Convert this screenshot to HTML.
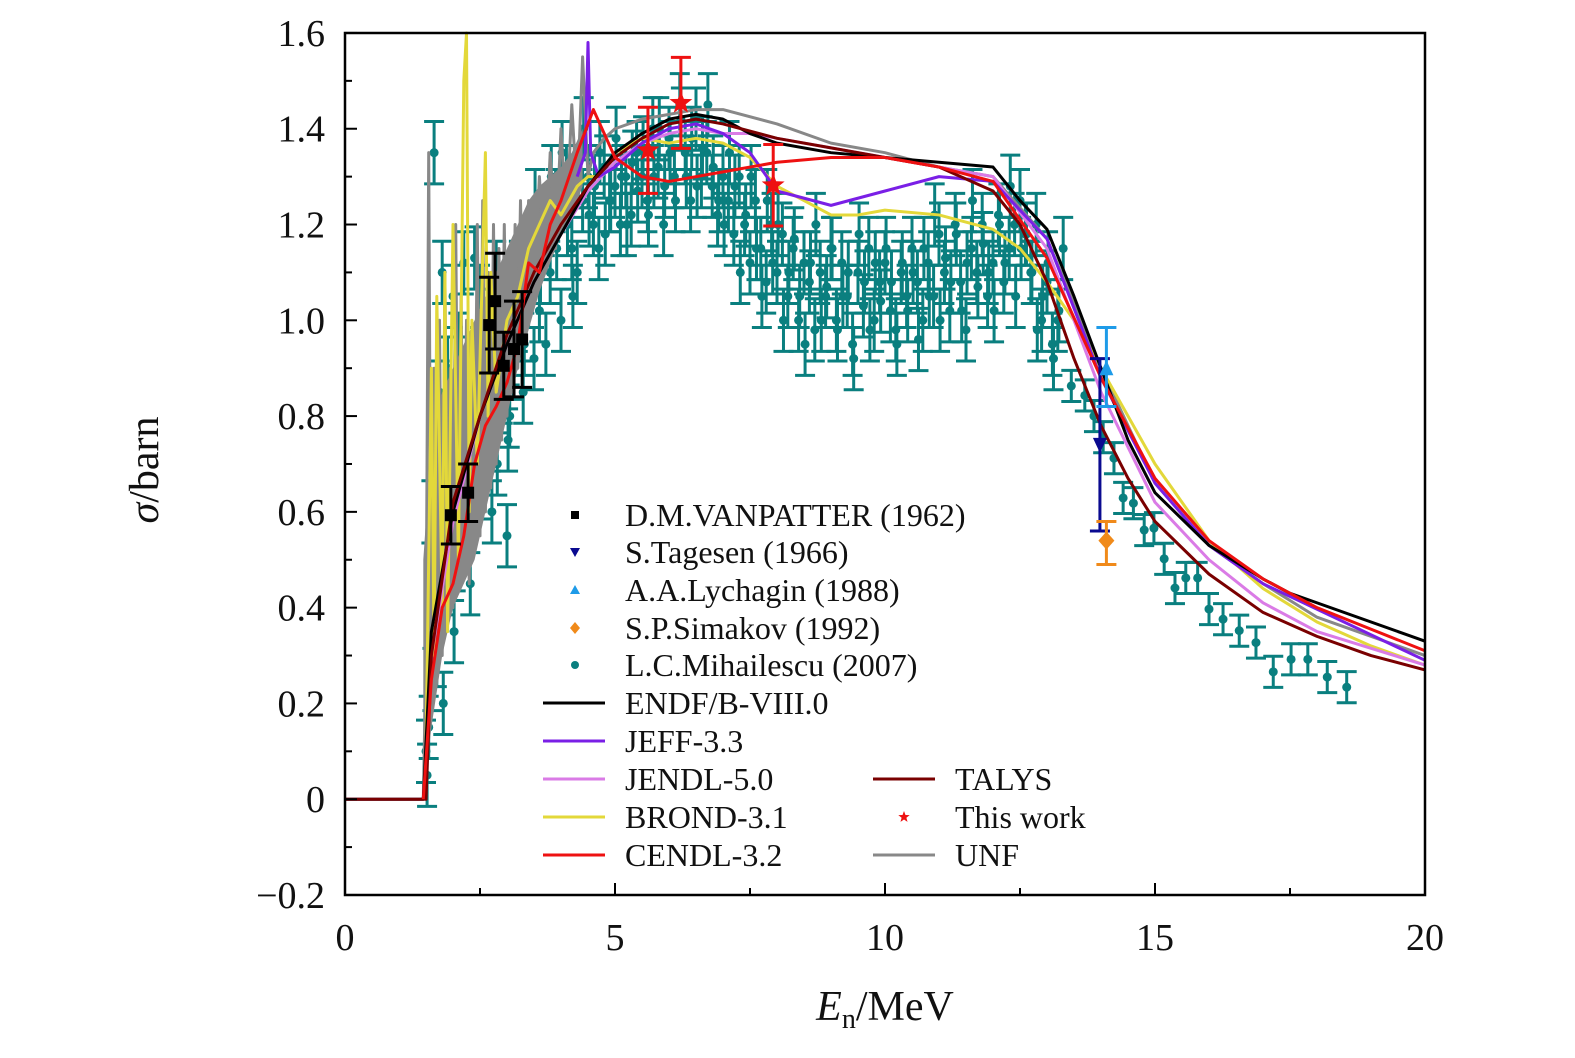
<!DOCTYPE html>
<html><head><meta charset="utf-8"><style>
body{margin:0;background:#fff}
svg text{font-family:"Liberation Serif",serif;fill:#111}
</style></head><body>
<svg id="chart" width="1575" height="1053" xmlns="http://www.w3.org/2000/svg">
<rect width="1575" height="1053" fill="#fff"/>
<g id="plot"></g>
<g id="axes"></g>
<g id="legend"></g>
</svg>
<script>
const xTicks=[0,5,10,15,20];
const yTicks=[-0.2,0,0.2,0.4,0.6,0.8,1.0,1.2,1.4,1.6];
const yTickLabels=["\u22120.2","0","0.2","0.4","0.6","0.8","1.0","1.2","1.4","1.6"];
const endfE=[0,1.45,1.6,2,2.5,3,3.5,4,4.5,5,5.5,6,6.5,7,7.5,8,9,10,11,12,12.5,13,13.5,14,14.5,15,16,17,17.5,20];
const endfV=[0,0,0.35,0.6,0.8,0.95,1.08,1.18,1.28,1.35,1.39,1.42,1.43,1.42,1.39,1.37,1.35,1.34,1.33,1.32,1.25,1.19,1.05,0.9,0.75,0.64,0.53,0.46,0.43,0.33];
const jeffE=[4.3,4.45,4.5,4.55,4.7,5,5.5,6,6.5,7,7.5,8,9,10,11,12,13,14,15,16,17,20];
const jeffV=[1.3,1.35,1.58,1.35,1.3,1.32,1.37,1.4,1.41,1.39,1.35,1.27,1.24,1.27,1.3,1.29,1.17,0.88,0.66,0.53,0.45,0.29];
const jendlE=[0,1.0,1.45,1.6,2,2.5,3,3.5,4,4.5,5,5.5,6,6.5,7,7.5,8,9,10,11,12,13,14,15,16,17,18,20];
const jendlV=[0,0,0,0.3,0.58,0.8,0.95,1.08,1.18,1.27,1.33,1.37,1.39,1.4,1.39,1.39,1.38,1.36,1.34,1.32,1.3,1.15,0.85,0.62,0.5,0.41,0.35,0.28];
const brondE=[1.5,1.6,1.65,1.7,1.8,1.85,1.9,2.0,2.1,2.2,2.25,2.3,2.35,2.45,2.6,2.65,2.7,2.8,3.0,3.2,3.4,3.6,3.8,4.0,4.3,4.5,4.7,5,5.5,6,6.5,7,7.5,8,8.5,9,9.5,10,11,12,12.5,13,13.5,14,15,16,17,18,19,20];
const brondV=[0.1,0.9,0.3,1.05,0.4,1.1,0.35,1.2,0.5,1.5,1.6,0.6,1.0,0.7,1.35,0.8,1.1,0.85,1.0,1.05,1.15,1.2,1.25,1.22,1.28,1.3,1.3,1.35,1.38,1.37,1.38,1.37,1.34,1.28,1.25,1.22,1.22,1.23,1.22,1.19,1.15,1.08,1.0,0.9,0.7,0.54,0.44,0.37,0.32,0.28];
const cendlE=[1.45,1.6,1.8,2,2.2,2.4,2.6,2.8,3,3.2,3.4,3.6,3.8,4,4.3,4.6,5,5.5,6,7,8,9,10,11,12,13,14,15,16,17,18,20];
const cendlV=[0,0.25,0.4,0.45,0.55,0.7,0.78,0.82,0.87,0.95,1.12,1.1,1.2,1.25,1.35,1.44,1.34,1.3,1.29,1.31,1.33,1.34,1.34,1.32,1.29,1.13,0.88,0.67,0.54,0.46,0.4,0.31];
const talysE=[0,1.5,1.6,2,2.5,3,3.5,4,4.5,5,5.5,6,6.5,7,8,9,10,11,12,12.5,13,13.5,14,14.5,15,16,17,18,19,20];
const talysV=[0,0,0.3,0.62,0.8,0.97,1.1,1.2,1.28,1.34,1.38,1.41,1.42,1.41,1.38,1.36,1.34,1.32,1.27,1.2,1.08,0.92,0.78,0.67,0.58,0.47,0.39,0.34,0.3,0.27];
const unfBandE=[1.45,1.6,1.8,2.0,2.2,2.4,2.6,2.8,3.0,3.2,3.4,3.6,3.8,4.0,4.2,4.4];
const unfBandLo=[0,0.15,0.3,0.4,0.45,0.5,0.6,0.7,0.8,0.9,0.98,1.06,1.12,1.18,1.22,1.28];
const unfBandHi=[0.5,0.75,0.85,0.9,0.95,1.0,1.05,1.1,1.15,1.2,1.25,1.28,1.3,1.32,1.35,1.4];
const unfE=[1.45,1.5,1.55,1.6,1.65,1.7,1.75,1.8,1.85,1.9,1.95,2.0,2.05,2.1,2.15,2.2,2.25,2.3,2.35,2.4,2.45,2.5,2.55,2.6,2.65,2.7,2.75,2.8,2.85,2.9,2.95,3.0,3.05,3.1,3.15,3.2,3.25,3.3,3.4,3.5,3.6,3.7,3.8,3.9,4.0,4.1,4.2,4.3,4.4,4.5,4.6,4.8,5,5.5,6,6.5,7,8,9,10,11,12,13,14,15,16,17,18,20];
const unfV=[0,0.3,1.35,0.2,0.9,0.35,1.0,0.3,1.1,0.45,0.9,0.4,1.2,0.5,1.05,0.55,1.0,0.45,0.95,0.6,1.2,0.55,1.25,0.6,1.1,0.65,1.2,0.7,1.15,0.75,1.2,0.8,1.1,0.85,1.2,0.9,1.25,0.95,1.25,1.05,1.3,1.1,1.35,1.15,1.4,1.2,1.45,1.25,1.55,1.3,1.35,1.38,1.4,1.42,1.43,1.44,1.44,1.41,1.37,1.35,1.32,1.3,1.17,0.9,0.66,0.53,0.45,0.38,0.3];
const vanE=[1.96,2.28,2.67,2.78,2.94,3.13,3.28];
const vanV=[0.593,0.64,0.99,1.04,0.905,0.94,0.96];
const vanErr=[0.06,0.06,0.1,0.1,0.07,0.1,0.1];
const tagE=[13.98],tagV=[0.74],tagLo=[0.56],tagHi=[0.92];
const lycE=[14.1],lycV=[0.9],lycLo=[0.82],lycHi=[0.985];
const simE=[14.1],simV=[0.54],simLo=[0.49],simHi=[0.58];
const thisE=[5.61,6.22,7.93];
const thisV=[1.355,1.454,1.282];
const thisErr=[0.09,0.095,0.085];
const mihE=[1.5,1.55,1.6,1.65,1.7,1.75,1.8,1.85,1.9,1.95,2.0,2.05,2.1,2.15,2.2,2.25,2.3,2.35,2.4,2.45,2.5,2.55,2.6,2.65,2.7,2.75,2.8,2.9,3.0,3.05,3.1,3.2,3.3,3.4,3.5,3.6,3.7,3.8,3.9,4.0,4.1,4.2,4.3,4.4,4.5,4.6,4.7,4.8,4.9,5.0,5.1,5.2,5.3,5.4,5.5,5.6,5.7,5.8,5.9,6.0,6.1,6.2,6.3,6.4,6.5,6.6,6.7,6.8,6.9,7.0,7.1,7.2,7.3,7.4,7.5,7.6,7.7,7.8,7.9,8.0,8.1,8.2,8.3,8.4,8.5,8.6,8.7,8.8,8.9,9.0,9.1,9.2,9.3,9.4,9.5,9.6,9.7,9.8,9.9,10.0,10.1,10.2,10.3,10.4,10.5,10.6,10.7,10.8,10.9,11.0,11.1,11.2,11.3,11.4,11.5,11.6,11.7,11.8,11.9,12.0,12.1,12.2,12.3,12.4,12.5,12.6,12.7,12.8,12.9,13.0,13.1,13.2,13.3,13.45,13.7,13.87,14.04,14.24,14.41,14.6,14.8,14.98,15.17,15.37,15.57,15.79,16.0,16.26,16.56,16.87,17.19,17.52,17.83,18.19,18.55];
const mihV=[0.1,0.15,0.6,1.35,0.3,0.85,1.1,0.45,0.9,0.7,1.05,0.5,0.95,0.75,1.12,0.6,0.9,0.8,1.13,0.7,1.05,0.85,0.95,1.0,0.75,0.85,1.1,0.95,0.55,0.8,0.98,1.0,0.85,1.05,0.92,1.02,1.2,1.1,1.25,1.0,1.3,1.15,1.1,1.25,1.3,1.2,1.15,1.32,1.25,1.28,1.2,1.3,1.22,1.35,1.3,1.25,1.4,1.32,1.2,1.38,1.3,1.45,1.35,1.25,1.42,1.3,1.35,1.28,1.22,1.3,1.25,1.18,1.3,1.2,1.12,1.25,1.15,1.08,1.2,1.1,1.18,1.05,1.15,1.0,1.12,1.08,0.98,1.1,1.05,1.15,1.0,1.12,1.05,0.95,1.1,1.03,1.15,1.0,1.08,1.12,1.02,0.98,1.1,1.05,1.15,1.08,1.0,1.12,1.05,1.18,1.1,1.02,1.2,1.08,0.98,1.15,1.1,1.2,1.05,1.12,1.22,1.08,1.15,1.2,1.25,1.18,1.1,1.2,1.0,1.08,0.95,1.0,1.15,0.863,0.843,0.8,0.756,0.712,0.629,0.618,0.562,0.566,0.502,0.441,0.462,0.462,0.397,0.376,0.352,0.327,0.266,0.292,0.292,0.255,0.234];
const mih2E=[1.52,1.62,1.72,1.82,1.92,2.02,2.12,2.22,2.32,2.42,2.52,2.62,2.72,2.82,2.92,3.02,3.12,3.22,3.32,3.42,3.52,3.62,3.72,3.82,3.92,4.02,4.12,4.22,4.32,4.42,4.52,4.62,4.72,4.82,4.92,5.02,5.12,5.22,5.32,5.42,5.52,5.62,5.72,5.82,5.92,6.02,6.12,6.22,6.32,6.42,6.52,6.62,6.72,6.82,6.92,7.02,7.12,7.22,7.32,7.42,7.52,7.62,7.72,7.82,7.92,8.02,8.12,8.22,8.32,8.42,8.52,8.62,8.72,8.82,8.92,9.02,9.12,9.22,9.32,9.42,9.52,9.62,9.72,9.82,9.92,10.02,10.12,10.22,10.32,10.42,10.52,10.62,10.72,10.82,10.92,11.02,11.12,11.22,11.32,11.42,11.52,11.62,11.72,11.82,11.92,12.02,12.12,12.22,12.32,12.42,12.52,12.62,12.72,12.82,12.92,13.02,13.12,13.22];
const mih2V=[0.05,0.25,0.5,0.2,0.65,0.35,0.55,0.75,0.45,0.9,0.65,0.8,0.6,0.7,0.85,0.75,0.9,1.1,0.95,1.15,1.25,1.1,0.95,1.3,1.15,1.35,1.2,1.05,1.3,1.4,1.22,1.28,1.35,1.18,1.25,1.38,1.3,1.2,1.33,1.27,1.36,1.22,1.3,1.4,1.28,1.35,1.25,1.42,1.3,1.38,1.28,1.36,1.45,1.32,1.25,1.2,1.35,1.28,1.1,1.22,1.3,1.15,1.05,1.25,1.12,1.2,1.0,1.1,1.17,1.05,0.95,1.12,1.2,1.0,1.07,1.15,0.98,1.05,1.1,0.92,1.18,1.08,0.98,1.12,1.04,1.15,1.08,0.95,1.12,1.02,1.1,0.96,1.15,1.05,1.22,1.0,1.13,1.08,1.18,1.02,1.12,1.25,1.07,1.16,1.1,1.02,1.2,1.12,1.28,1.05,1.15,1.18,1.1,0.98,1.05,1.12,0.92,1.02];
const mihErr=0.065;

const X=e=>345+54*e, Y=v=>799.2-478.9*v;
const NS="http://www.w3.org/2000/svg";
const plot=document.getElementById('plot'),axes=document.getElementById('axes'),legend=document.getElementById('legend');
function mk(tag,attrs,parent){const el=document.createElementNS(NS,tag);for(const k in attrs)el.setAttribute(k,attrs[k]);parent.appendChild(el);return el;}
function clamp(v){return Math.max(-0.2,Math.min(1.6,v));}

function mihPoint(e0,v0,scale){
  const g=mk('g',{stroke:'#0a7f7f','stroke-width':3,fill:'#0a7f7f'},plot);
  
  
  const e=mihErr*scale;
  const x=X(e0),y1=Y(clamp(v0+e)),y2=Y(clamp(v0-e));
  mk('line',{x1:x,x2:x,y1:y1,y2:y2},g);
  mk('line',{x1:x-10,x2:x+10,y1:y1,y2:y1},g);
  mk('line',{x1:x-10,x2:x+10,y1:y2,y2:y2},g);
  mk('circle',{cx:x,cy:Y(v0),r:4.5,stroke:'none'},g);
}
for(let i=0;i<mihE.length;i++)mihPoint(mihE[i],mihV[i],mihE[i]>13.4?0.5:1);
for(let i=0;i<mih2E.length;i++)mihPoint(mih2E[i],mih2V[i],1);

function curve(E,V,color,name,w){
  const p=mk('polyline',{points:E.map((e,i)=>X(e)+','+Y(V[i])).join(' '),fill:'none',stroke:color,'stroke-width':w||3,'stroke-linejoin':'round'},plot);
  
  
}
const band=mk('polygon',{points:unfBandE.map((e,i)=>X(e)+','+Y(unfBandHi[i])).concat(unfBandE.slice().reverse().map((e,i)=>X(e)+','+Y(unfBandLo[unfBandE.length-1-i]))).join(' '),fill:'#888',stroke:'none'},plot);


curve(unfE,unfV,'#888','unf-curve',3);
curve(brondE,brondV,'#e3d83a','brond-curve');
curve(jendlE,jendlV,'#da7be6','jendl-curve');
curve(jeffE,jeffV,'#7a1fe6','jeff-curve');
curve(endfE,endfV,'#000','endf-curve');
curve(talysE,talysV,'#7a0000','talys-curve');
curve(cendlE,cendlV,'#ee1111','cendl-curve');

function errpt(e,v,lo,hi,color,name,shape){
  const g=mk('g',{stroke:color,'stroke-width':3,fill:color},plot);
  
  
  const x=X(e),y=Y(v);
  mk('line',{x1:x,x2:x,y1:Y(hi),y2:Y(lo)},g);
  mk('line',{x1:x-10,x2:x+10,y1:Y(hi),y2:Y(hi)},g);
  mk('line',{x1:x-10,x2:x+10,y1:Y(lo),y2:Y(lo)},g);
  if(shape==='sq')mk('rect',{x:x-6,y:y-6,width:12,height:12,stroke:'none'},g);
  if(shape==='dn')mk('polygon',{points:`${x-7},${y-7} ${x+7},${y-7} ${x},${y+8}`,stroke:'none'},g);
  if(shape==='up')mk('polygon',{points:`${x-7},${y+7} ${x+7},${y+7} ${x},${y-8}`,stroke:'none'},g);
  if(shape==='dia')mk('polygon',{points:`${x},${y-9} ${x+8},${y} ${x},${y+9} ${x-8},${y}`,stroke:'none'},g);
  if(shape==='star'){let pts=[];for(let k=0;k<10;k++){const r=k%2?5:12,a=-Math.PI/2+k*Math.PI/5;pts.push((x+r*Math.cos(a))+','+(y+r*Math.sin(a)));}mk('polygon',{points:pts.join(' '),stroke:'none'},g);}
}
for(let i=0;i<vanE.length;i++)errpt(vanE[i],vanV[i],vanV[i]-vanErr[i],vanV[i]+vanErr[i],'#000','vanpatter-point','sq');
errpt(tagE[0],tagV[0],tagLo[0],tagHi[0],'#0a0a90','tagesen-point','dn');
errpt(lycE[0],lycV[0],lycLo[0],lycHi[0],'#1e9be8','lychagin-point','up');
errpt(simE[0],simV[0],simLo[0],simHi[0],'#f08a1a','simakov-point','dia');
for(let i=0;i<thisE.length;i++)errpt(thisE[i],thisV[i],thisV[i]-thisErr[i],thisV[i]+thisErr[i],'#ee1111','this-work-point','star');

// axes
mk('rect',{x:345,y:33,width:1080,height:862,fill:'none',stroke:'#000','stroke-width':2.5},axes);
for(let e=0;e<=20;e+=2.5){const major=e%5===0;mk('line',{x1:X(e),x2:X(e),y1:895,y2:895-(major?12:7),stroke:'#000','stroke-width':2},axes);}
for(let v=-0.2;v<=1.61;v+=0.1){const major=Math.round(v*10)%2===0;mk('line',{x1:345,x2:345+(major?12:7),y1:Y(v),y2:Y(v),stroke:'#000','stroke-width':2},axes);}
xTicks.forEach(t=>{const tx=mk('text',{x:X(t),y:950,'font-size':38,'text-anchor':'middle'},axes);tx.textContent=t;
 
 });
yTicks.forEach((t,i)=>{const tx=mk('text',{x:325,y:Y(t)+13,'font-size':38,'text-anchor':'end'},axes);tx.textContent=yTickLabels[i];
 
 });
const xl=mk('text',{x:885,y:1020,'font-size':42,'text-anchor':'middle'},axes);
xl.innerHTML='<tspan font-style="italic">E</tspan><tspan font-size="28" dy="8">n</tspan><tspan dy="-8">/MeV</tspan>';


const yl=mk('text',{x:0,y:0,'font-size':42,'text-anchor':'middle',transform:'translate(158,470) rotate(-90)'},axes);
yl.innerHTML='<tspan font-style="italic">σ</tspan>/barn';



// legend
const legText=['D.M.VANPATTER (1962)','S.Tagesen (1966)','A.A.Lychagin (1988)','S.P.Simakov (1992)','L.C.Mihailescu (2007)','ENDF/B-VIII.0','JEFF-3.3','JENDL-5.0','BROND-3.1','CENDL-3.2'];
const legCol=['#000','#0a0a90','#1e9be8','#f08a1a','#0a7f7f','#000','#7a1fe6','#da7be6','#e3d83a','#ee1111'];
const legRow=[515,552,590,628,665,703,741,779,817,855];
legText.forEach((t,i)=>{
  const g=mk('g',{},legend);
  
  
  const y=legRow[i];
  if(i<5){const x=575;
    if(i===0)mk('rect',{x:x-4,y:y-4,width:8,height:8,fill:legCol[i]},g);
    if(i===1)mk('polygon',{points:`${x-5},${y-4} ${x+5},${y-4} ${x},${y+5}`,fill:legCol[i]},g);
    if(i===2)mk('polygon',{points:`${x-5},${y+4} ${x+5},${y+4} ${x},${y-5}`,fill:legCol[i]},g);
    if(i===3)mk('polygon',{points:`${x},${y-6} ${x+5},${y} ${x},${y+6} ${x-5},${y}`,fill:legCol[i]},g);
    if(i===4)mk('circle',{cx:x,cy:y,r:4,fill:legCol[i]},g);
  } else mk('line',{x1:543,x2:605,y1:y,y2:y,stroke:legCol[i],'stroke-width':3},g);
  const tx=mk('text',{x:625,y:y+11,'font-size':32},g);tx.textContent=t;
});
[['TALYS','#7a0000','line'],['This work','#ee1111','star'],['UNF','#888','line']].forEach((d,i)=>{
  const g=mk('g',{},legend);
  
  
  const y=legRow[7+i];
  if(d[2]==='line')mk('line',{x1:873,x2:935,y1:y,y2:y,stroke:d[1],'stroke-width':3},g);
  else{const x=904;let pts=[];for(let k=0;k<10;k++){const r=k%2?2.5:6,a=-Math.PI/2+k*Math.PI/5;pts.push((x+r*Math.cos(a))+','+(y+r*Math.sin(a)));}mk('polygon',{points:pts.join(' '),fill:d[1]},g);}
  const tx=mk('text',{x:955,y:y+11,'font-size':32},g);tx.textContent=d[0];
});
</script>
</body></html>
